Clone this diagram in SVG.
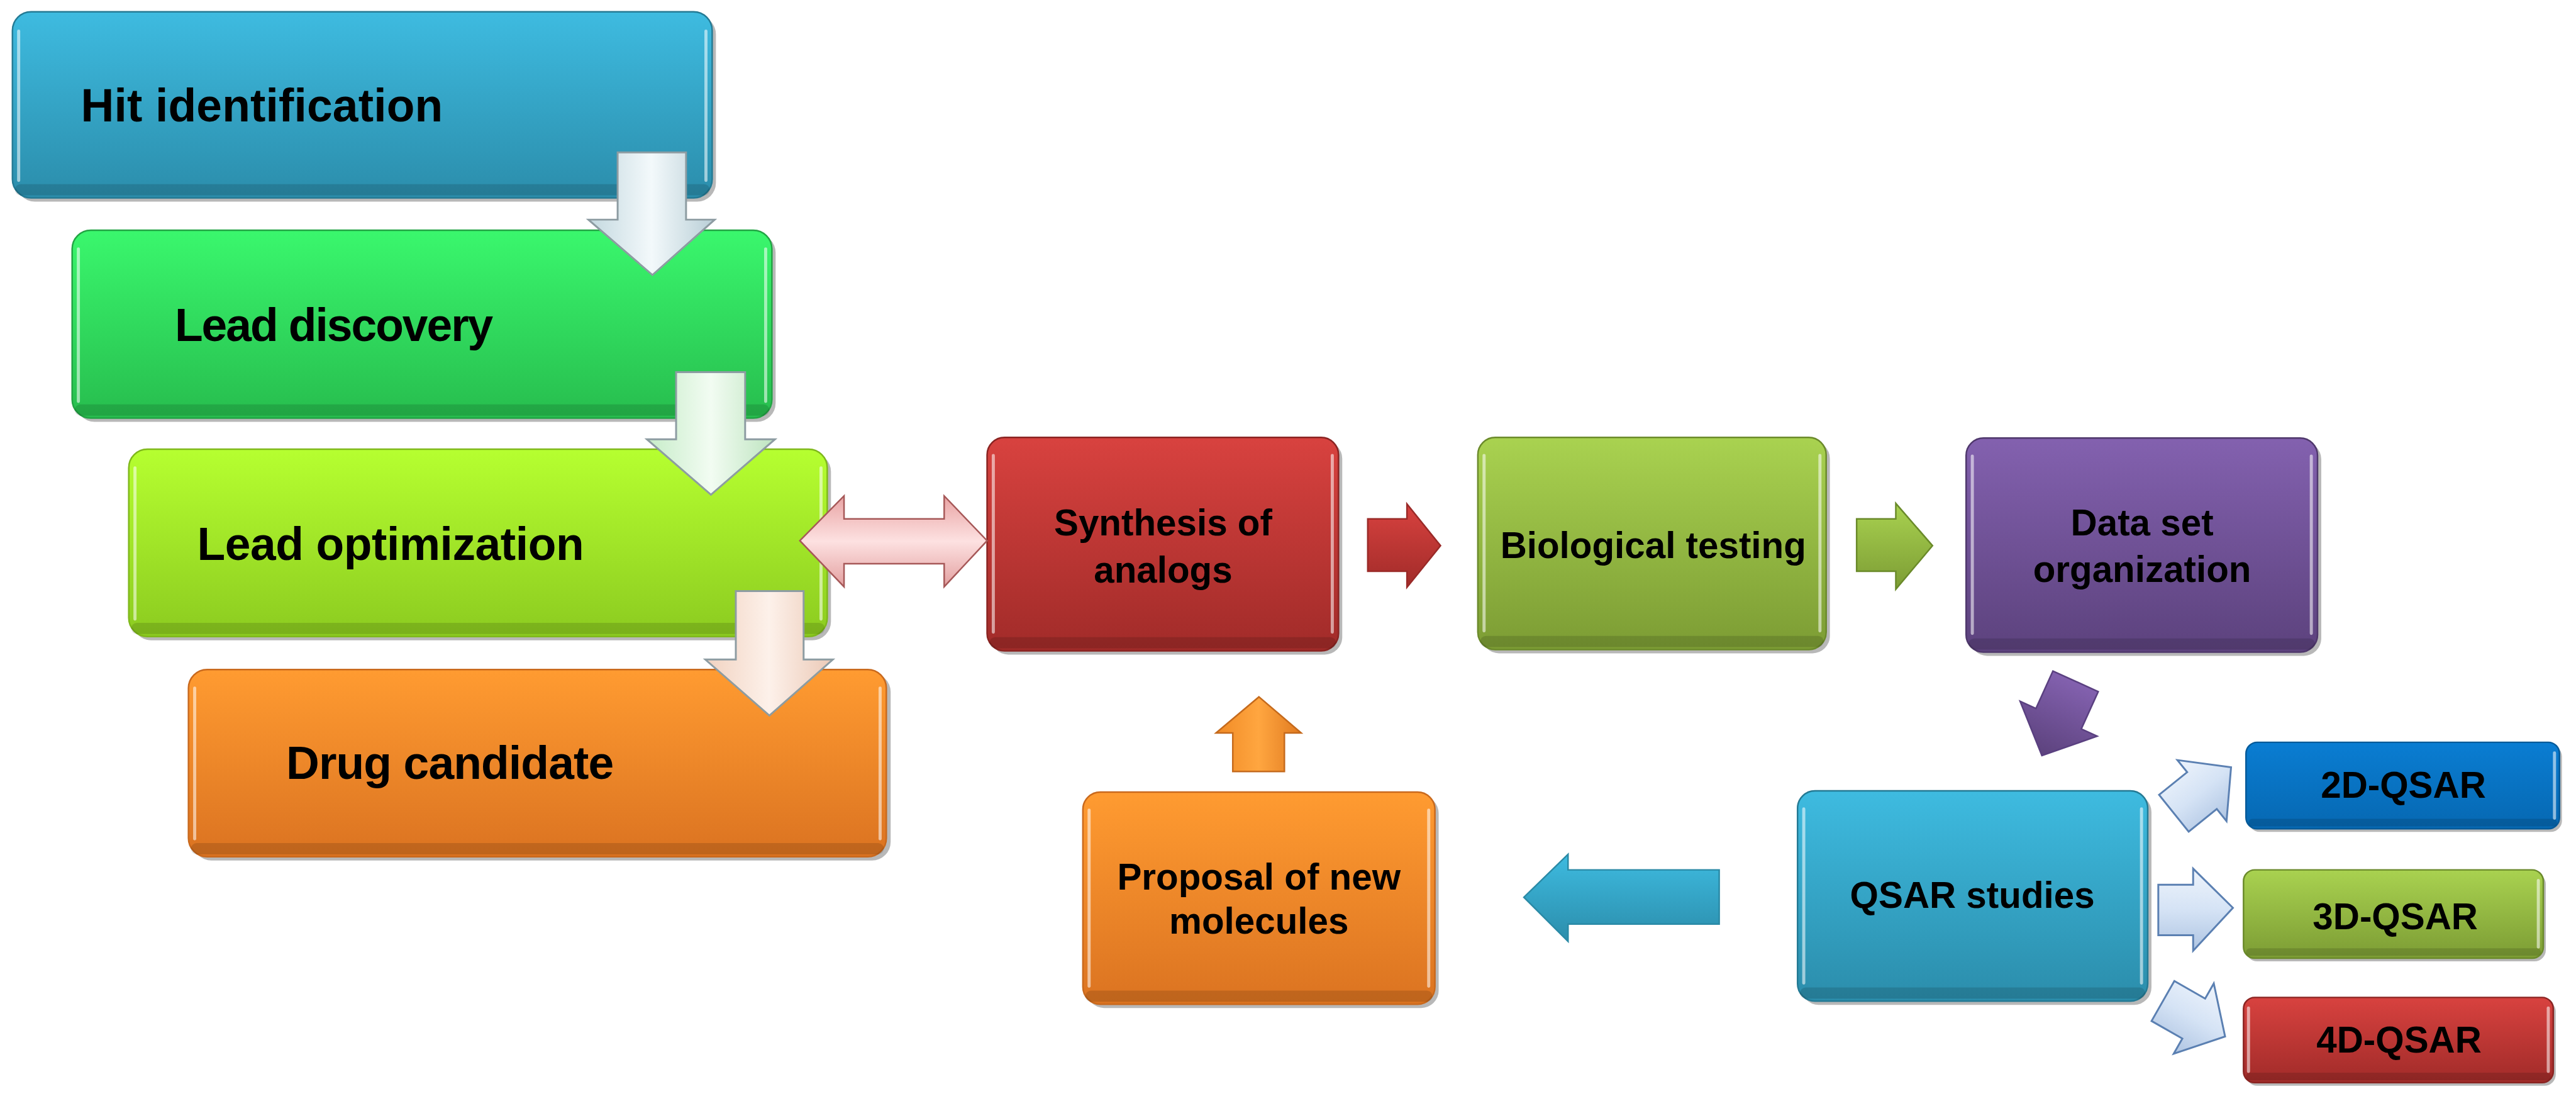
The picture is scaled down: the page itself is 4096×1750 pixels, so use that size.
<svg xmlns="http://www.w3.org/2000/svg" width="4096" height="1750" viewBox="0 0 4096 1750">
<defs>
<linearGradient id="gCyan" x1="0" y1="0" x2="0" y2="1"><stop offset="0" stop-color="#3ebbe0"/><stop offset="1" stop-color="#2b8dab"/></linearGradient>
<linearGradient id="gGreen" x1="0" y1="0" x2="0" y2="1"><stop offset="0" stop-color="#3af76d"/><stop offset="1" stop-color="#27bd4e"/></linearGradient>
<linearGradient id="gLime" x1="0" y1="0" x2="0" y2="1"><stop offset="0" stop-color="#b6ff30"/><stop offset="1" stop-color="#8ccb20"/></linearGradient>
<linearGradient id="gOrange" x1="0" y1="0" x2="0" y2="1"><stop offset="0" stop-color="#ff9b31"/><stop offset="1" stop-color="#db7321"/></linearGradient>
<linearGradient id="gRed" x1="0" y1="0" x2="0" y2="1"><stop offset="0" stop-color="#d8423f"/><stop offset="1" stop-color="#a12b29"/></linearGradient>
<linearGradient id="gOlive" x1="0" y1="0" x2="0" y2="1"><stop offset="0" stop-color="#a9d250"/><stop offset="1" stop-color="#7c9c34"/></linearGradient>
<linearGradient id="gPurple" x1="0" y1="0" x2="0" y2="1"><stop offset="0" stop-color="#8361af"/><stop offset="1" stop-color="#5c427d"/></linearGradient>
<linearGradient id="gBlue" x1="0" y1="0" x2="0" y2="1"><stop offset="0" stop-color="#0a7dd2"/><stop offset="1" stop-color="#0668b2"/></linearGradient>
<linearGradient id="gPaleBlue" x1="0" y1="0" x2="1" y2="0"><stop offset="0" stop-color="#c3d8df"/><stop offset="0.5" stop-color="#f3f9fb"/><stop offset="1" stop-color="#b8ced6"/></linearGradient>
<linearGradient id="gPaleGreen" x1="0" y1="0" x2="1" y2="0"><stop offset="0" stop-color="#c6ecc8"/><stop offset="0.5" stop-color="#f2fcf2"/><stop offset="1" stop-color="#bde4bf"/></linearGradient>
<linearGradient id="gPalePeach" x1="0" y1="0" x2="1" y2="0"><stop offset="0" stop-color="#f1d2c0"/><stop offset="0.5" stop-color="#fdf1ea"/><stop offset="1" stop-color="#ebc9b6"/></linearGradient>
<linearGradient id="gPink" x1="0" y1="0" x2="0" y2="1"><stop offset="0" stop-color="#e9a4a4"/><stop offset="0.5" stop-color="#fde1e1"/><stop offset="1" stop-color="#e3a0a0"/></linearGradient>
<linearGradient id="gOrangeH" x1="0" y1="0" x2="1" y2="0"><stop offset="0" stop-color="#f08a25"/><stop offset="0.5" stop-color="#ffa640"/><stop offset="1" stop-color="#e07a20"/></linearGradient>
<linearGradient id="gIce" x1="0" y1="0" x2="0" y2="1"><stop offset="0" stop-color="#eef4fc"/><stop offset="0.5" stop-color="#d5e3f5"/><stop offset="1" stop-color="#aec4e2"/></linearGradient>
<style>
.box{stroke-width:2.5;}
.shadow{fill:#000;opacity:0.28;}
.lip{fill:#000;opacity:0.13;}
.hl{stroke:#fff;stroke-opacity:0.55;stroke-width:5;stroke-linecap:round;fill:none;}
.t{font-family:"Liberation Sans",Arial,sans-serif;font-weight:bold;fill:#000;}
.big{font-size:74px;}
.mid{font-size:59px;text-anchor:middle;}
.pale{stroke:#8d9ca2;stroke-width:3;}
.arr{stroke-width:2.5;}
.ice{fill:url(#gIce);stroke:#5b80b2;stroke-width:3;}
</style>
</defs>
<rect width="4096" height="1750" fill="#fff"/>
<g transform="scale(0.989)">
<g id="nodes">
<g id="hit">
<rect class="shadow" x="26" y="25" width="1125" height="299" rx="30"/>
<rect class="box" x="20" y="19" width="1125" height="299" rx="30" fill="url(#gCyan)" stroke="#247a94"/>
<rect class="lip" x="24" y="296" width="1117" height="18" rx="9"/>
<line class="hl" x1="30" y1="50" x2="30" y2="290"/><line class="hl" x1="1135" y1="50" x2="1135" y2="290"/>
<text class="t big" x="130" y="195" textLength="582">Hit identification</text>
</g>
<g id="lead-discovery">
<rect class="shadow" x="122" y="376" width="1125" height="302" rx="30"/>
<rect class="box" x="116" y="370" width="1125" height="302" rx="30" fill="url(#gGreen)" stroke="#22a444"/>
<rect class="lip" x="120" y="650" width="1117" height="18" rx="9"/>
<line class="hl" x1="126" y1="400" x2="126" y2="645"/><line class="hl" x1="1231" y1="400" x2="1231" y2="645"/>
<text class="t big" x="281" y="548" textLength="512">Lead discovery</text>
</g>
<g id="lead-optimization">
<rect class="shadow" x="213" y="728" width="1123" height="301" rx="30"/>
<rect class="box" x="207" y="722" width="1123" height="301" rx="30" fill="url(#gLime)" stroke="#7fb81c"/>
<rect class="lip" x="211" y="1001" width="1115" height="18" rx="9"/>
<line class="hl" x1="217" y1="752" x2="217" y2="995"/><line class="hl" x1="1320" y1="752" x2="1320" y2="995"/>
<text class="t big" x="317" y="900" textLength="622">Lead optimization</text>
</g>
<g id="drug-candidate">
<rect class="shadow" x="310" y="1082" width="1122" height="301" rx="30"/>
<rect class="box" x="303" y="1076" width="1122" height="301" rx="30" fill="url(#gOrange)" stroke="#c9691d"/>
<rect class="lip" x="307" y="1355" width="1114" height="18" rx="9"/>
<line class="hl" x1="313" y1="1106" x2="313" y2="1348"/><line class="hl" x1="1415" y1="1106" x2="1415" y2="1348"/>
<text class="t big" x="460" y="1252" textLength="527">Drug candidate</text>
</g>
<g id="synthesis">
<rect class="shadow" x="1593" y="709" width="565" height="343" rx="28"/>
<rect class="box" x="1587" y="703" width="565" height="343" rx="28" fill="url(#gRed)" stroke="#8a2422"/>
<rect class="lip" x="1591" y="1024" width="557" height="18" rx="9"/>
<line class="hl" x1="1597" y1="732" x2="1597" y2="1016"/><line class="hl" x1="2142" y1="732" x2="2142" y2="1016"/>
<text class="t mid" x="1870" y="860">Synthesis of</text>
<text class="t mid" x="1870" y="936">analogs</text>
</g>
<g id="biological-testing">
<rect class="shadow" x="2382" y="709" width="560" height="341" rx="28"/>
<rect class="box" x="2376" y="703" width="560" height="341" rx="28" fill="url(#gOlive)" stroke="#6b8a2b"/>
<rect class="lip" x="2380" y="1022" width="552" height="18" rx="9"/>
<line class="hl" x1="2386" y1="732" x2="2386" y2="1014"/><line class="hl" x1="2926" y1="732" x2="2926" y2="1014"/>
<text class="t mid" x="2658" y="897">Biological testing</text>
</g>
<g id="data-set">
<rect class="shadow" x="3167" y="710" width="565" height="344" rx="28"/>
<rect class="box" x="3161" y="704" width="565" height="344" rx="28" fill="url(#gPurple)" stroke="#4f386c"/>
<rect class="lip" x="3165" y="1026" width="557" height="18" rx="9"/>
<line class="hl" x1="3171" y1="733" x2="3171" y2="1018"/><line class="hl" x1="3716" y1="733" x2="3716" y2="1018"/>
<text class="t mid" x="3444" y="860">Data set</text>
<text class="t mid" x="3444" y="935">organization</text>
</g>
<g id="qsar-studies">
<rect class="shadow" x="2896" y="1277" width="563" height="338" rx="28"/>
<rect class="box" x="2890" y="1271" width="563" height="338" rx="28" fill="url(#gCyan)" stroke="#247a94"/>
<rect class="lip" x="2894" y="1587" width="555" height="18" rx="9"/>
<line class="hl" x1="2900" y1="1300" x2="2900" y2="1580"/><line class="hl" x1="3443" y1="1300" x2="3443" y2="1580"/>
<text class="t mid" x="3171" y="1459">QSAR studies</text>
</g>
<g id="proposal">
<rect class="shadow" x="1747" y="1279" width="566" height="341" rx="28"/>
<rect class="box" x="1741" y="1273" width="566" height="341" rx="28" fill="url(#gOrange)" stroke="#c9691d"/>
<rect class="lip" x="1745" y="1592" width="558" height="18" rx="9"/>
<line class="hl" x1="1751" y1="1302" x2="1751" y2="1585"/><line class="hl" x1="2297" y1="1302" x2="2297" y2="1585"/>
<text class="t mid" x="2024" y="1430">Proposal of new</text>
<text class="t mid" x="2024" y="1501">molecules</text>
</g>
<g id="qsar-2d">
<rect class="shadow" x="3615" y="1198" width="504" height="139" rx="18"/>
<rect class="box" x="3611" y="1193" width="504" height="139" rx="18" fill="url(#gBlue)" stroke="#055a99"/>
<rect class="lip" x="3615" y="1316" width="496" height="12" rx="6"/>
<line class="hl" x1="4107" y1="1210" x2="4107" y2="1315"/>
<text class="t mid" x="3864" y="1282">2D-QSAR</text>
</g>
<g id="qsar-3d">
<rect class="shadow" x="3611" y="1403" width="482" height="142" rx="18"/>
<rect class="box" x="3607" y="1398" width="482" height="142" rx="18" fill="url(#gOlive)" stroke="#6b8a2b"/>
<rect class="lip" x="3611" y="1524" width="474" height="12" rx="6"/>
<line class="hl" x1="4081" y1="1415" x2="4081" y2="1522"/>
<text class="t mid" x="3851" y="1493">3D-QSAR</text>
</g>
<g id="qsar-4d">
<rect class="shadow" x="3611" y="1608" width="498" height="137" rx="18"/>
<rect class="box" x="3607" y="1603" width="498" height="137" rx="18" fill="url(#gRed)" stroke="#8a2422"/>
<rect class="lip" x="3611" y="1724" width="490" height="12" rx="6"/>
<line class="hl" x1="3615" y1="1620" x2="3615" y2="1722"/><line class="hl" x1="4097" y1="1620" x2="4097" y2="1722"/>
<text class="t mid" x="3857" y="1692">4D-QSAR</text>
</g>
</g>
<g id="connectors">
<polygon class="pale" fill="url(#gPaleBlue)" points="993,245 1103,245 1103,353 1149,353 1049,442 946,353 993,353"/>
<polygon class="pale" fill="url(#gPaleGreen)" points="1087,598 1198,598 1198,706 1246,706 1143,795 1040,706 1087,706"/>
<polygon class="pale" fill="url(#gPalePeach)" points="1183,950 1292,950 1292,1060 1339,1060 1237,1150 1134,1060 1183,1060"/>
<polygon class="arr" fill="url(#gPink)" stroke="#a65858" points="1286,869 1357,797 1357,834 1518,834 1518,797 1587,869 1518,943 1518,906 1357,906 1357,943"/>
<polygon class="arr" fill="url(#gRed)" stroke="#9a2a28" points="2199,834 2262,834 2262,810 2316,877 2262,944 2262,918 2199,918"/>
<polygon class="arr" fill="url(#gOlive)" stroke="#6a8a2a" points="2985,834 3048,834 3048,809 3107,877 3048,947 3048,918 2985,918"/>
<polygon class="arr" fill="url(#gPurple)" stroke="#5a4080" transform="translate(3337,1095) rotate(24.4)" points="-40,0 40,0 40,66 68,66 0,131 -68,66 -40,66"/>
<polygon class="arr" fill="url(#gCyan)" stroke="#2a8aa6" points="2764,1398 2521,1398 2521,1373 2450,1442 2521,1513 2521,1485 2764,1485"/>
<polygon class="arr" fill="url(#gOrangeH)" stroke="#c56a1c" points="1982,1240 1982,1178 1955,1178 2024,1120 2092,1178 2065,1178 2065,1240"/>
<polygon class="ice" points="3470,1422 3526,1422 3526,1396 3590,1459 3526,1528 3526,1503 3470,1503"/>
<polygon class="ice" transform="translate(3541,1270) rotate(-38.8)" points="-59,-38 -1,-38 -1,-63 59,0 -1,63 -1,38 -59,38"/>
<polygon class="ice" transform="translate(3527,1637) rotate(29.7)" points="-57,-37 0,-37 0,-65 58,0 0,65 0,37 -57,37"/>
</g>
</g>
</svg>
